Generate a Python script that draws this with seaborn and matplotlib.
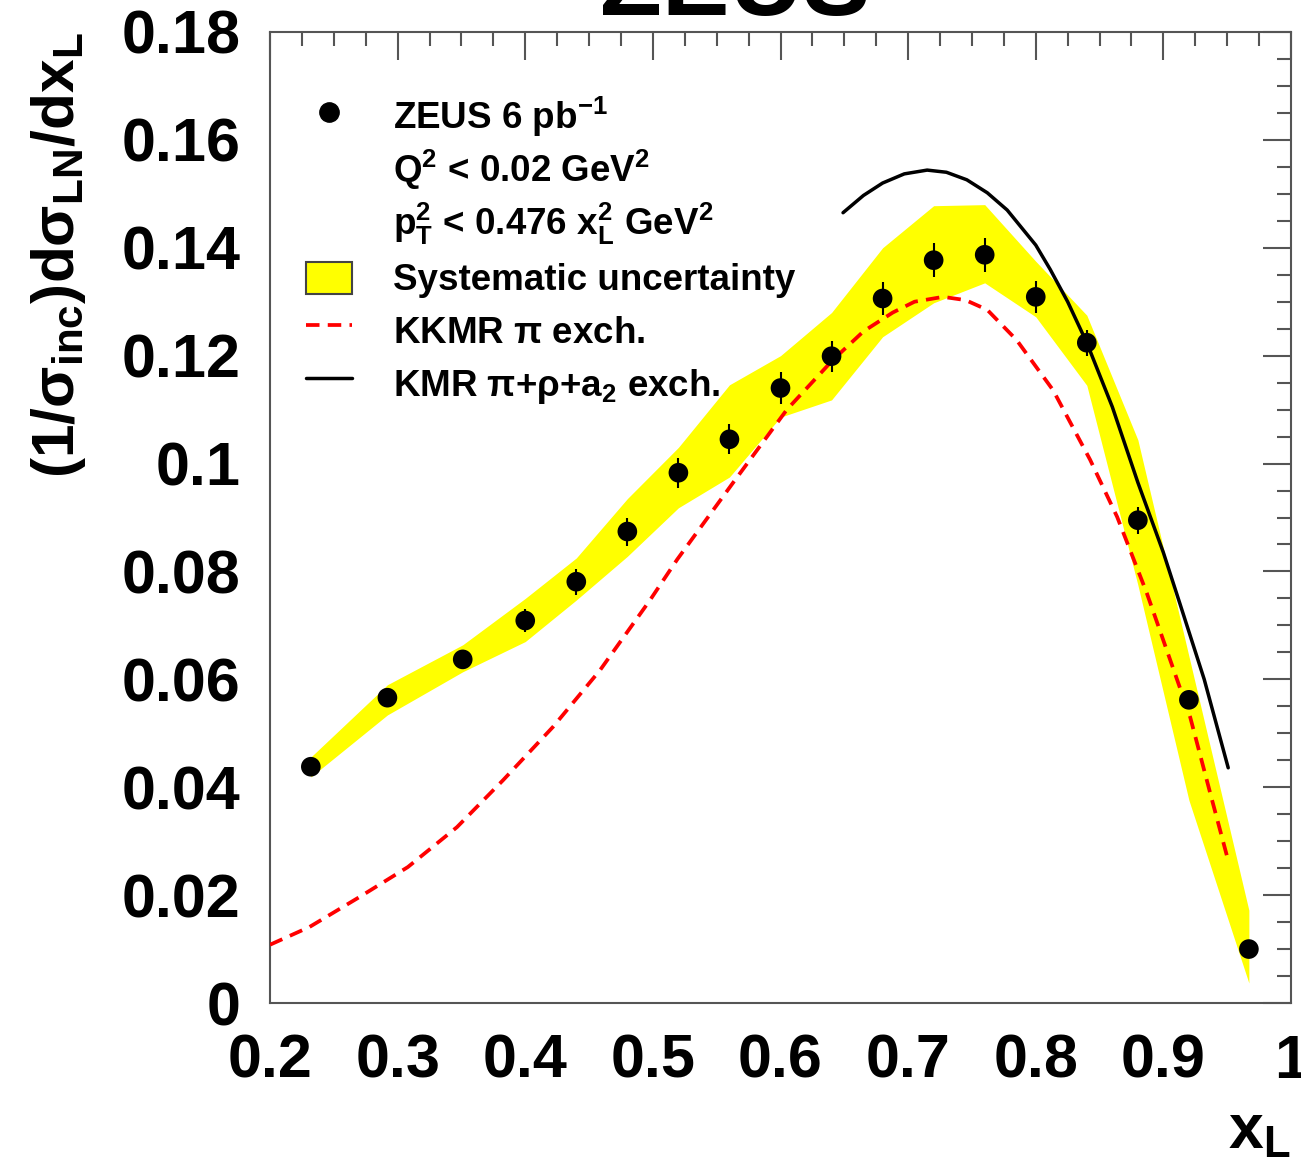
import numpy as np
import pandas as pd
import matplotlib
matplotlib.use("Agg")
import matplotlib.pyplot as plt
import seaborn as sns
from matplotlib.lines import Line2D
from matplotlib.patches import Patch, Rectangle
from matplotlib.legend_handler import HandlerPatch
from matplotlib.ticker import MultipleLocator, FuncFormatter

# ---------------- data ----------------
x_data = [0.232, 0.292, 0.351, 0.40, 0.44, 0.48, 0.52, 0.56, 0.60, 0.64,
          0.68, 0.72, 0.76, 0.80, 0.84, 0.88, 0.92, 0.967]
y_data = [0.0438, 0.0566, 0.0637, 0.0709, 0.0781, 0.0874, 0.0983, 0.1045, 0.1140, 0.1199,
          0.1306, 0.1377, 0.1387, 0.1309, 0.1224, 0.0895, 0.0562, 0.0100]
y_stat = [0.0012, 0.0014, 0.0016, 0.0022, 0.0024, 0.0026, 0.0028, 0.0028, 0.0029, 0.0029,
          0.0030, 0.0032, 0.0032, 0.0030, 0.0024, 0.0025, 0.0014, 0.0008]
sys_upper = [0.0456, 0.0590, 0.0664, 0.0750, 0.0825, 0.0935, 0.1030, 0.1146, 0.1200, 0.1280,
             0.1400, 0.1478, 0.1480, 0.1375, 0.1275, 0.1044, 0.0643, 0.0172]
sys_lower = [0.0419, 0.0534, 0.0614, 0.0670, 0.0747, 0.0828, 0.0918, 0.0975, 0.1086, 0.1118,
             0.1235, 0.1298, 0.1335, 0.1272, 0.1145, 0.0775, 0.0376, 0.0037]

kkmr_x = [0.200, 0.231, 0.2705, 0.308, 0.3465, 0.3826, 0.4218, 0.4586, 0.4978, 0.519,
          0.563, 0.605, 0.641, 0.665, 0.688, 0.705, 0.7274, 0.745, 0.762, 0.785,
          0.8136, 0.8426, 0.8638, 0.887, 0.921, 0.9367, 0.950]
kkmr_y = [0.0108, 0.0141, 0.0197, 0.0252, 0.0326, 0.0413, 0.0512, 0.0617, 0.0747, 0.0822,
          0.0965, 0.1100, 0.1192, 0.1245, 0.1280, 0.1300, 0.1309, 0.1303, 0.1285, 0.1229,
          0.1136, 0.1007, 0.0901, 0.0760, 0.0530, 0.0389, 0.0271]

kmr_x = [0.649, 0.665, 0.680, 0.697, 0.7149, 0.730, 0.746, 0.762, 0.7776, 0.800,
         0.8113, 0.825, 0.840, 0.860, 0.880, 0.900, 0.913, 0.932, 0.9508]
kmr_y = [0.1465, 0.1497, 0.1520, 0.1537, 0.1544, 0.1540, 0.1526, 0.1502, 0.1470, 0.1405,
         0.1360, 0.1300, 0.1224, 0.1105, 0.0965, 0.0835, 0.0740, 0.0600, 0.0436]

legend_labels = [
    "ZEUS 6 pb$^{-1}$",
    "Q$^{2}$ < 0.02 GeV$^{2}$",
    "$p_{T}^{2}$ < 0.476 $x_{L}^{2}$ GeV$^{2}$",
    "Systematic uncertainty",
    "KKMR $\\pi$ exch.",
    "KMR $\\pi$+$\\rho$+a$_{2}$ exch.",
]

# ---------------- style ----------------
sns.set_theme(style="white")
plt.rcParams["font.family"] = ["Liberation Sans", "DejaVu Sans"]
plt.rcParams["font.weight"] = "bold"
plt.rcParams["axes.labelweight"] = "bold"
plt.rcParams["text.color"] = "black"
plt.rcParams["axes.labelcolor"] = "black"
plt.rcParams["xtick.labelcolor"] = "black"
plt.rcParams["ytick.labelcolor"] = "black"
plt.rcParams["mathtext.fontset"] = "custom"
plt.rcParams["mathtext.rm"] = "Liberation Sans:bold"
plt.rcParams["mathtext.it"] = "Liberation Sans:bold"
plt.rcParams["mathtext.bf"] = "Liberation Sans:bold"
plt.rcParams["mathtext.sf"] = "Liberation Sans:bold"
plt.rcParams["mathtext.default"] = "rm"

W, H = 1301, 1168
fig = plt.figure(figsize=(W / 100, H / 100), dpi=100)
ax = fig.add_axes([270 / W, 1 - 1003 / H, (1291 - 270) / W, (1003 - 32) / H])

yellow = "#ffff00"
dash = (0, (3.6, 2.2))

ax.fill_between(x_data, sys_lower, sys_upper, color=yellow, lw=0, zorder=1)
sns.lineplot(x=kkmr_x, y=kkmr_y, ax=ax, color="#ff0000", lw=2.7, linestyle=dash,
             sort=False, estimator=None, zorder=3)
sns.lineplot(x=kmr_x, y=kmr_y, ax=ax, color="black", lw=2.5,
             sort=False, estimator=None, zorder=3)
ax.errorbar(x_data, y_data, yerr=y_stat, fmt="none", ecolor="black",
            elinewidth=1.5, capsize=0, zorder=4)
sns.scatterplot(x=x_data, y=y_data, ax=ax, color="black", s=200,
                edgecolor="none", zorder=5, legend=False)

ax.set_xlim(0.2, 1.0)
ax.set_ylim(0, 0.18)
ax.xaxis.set_major_locator(MultipleLocator(0.1))
ax.xaxis.set_minor_locator(MultipleLocator(0.025))
ax.yaxis.set_major_locator(MultipleLocator(0.02))
ax.yaxis.set_minor_locator(MultipleLocator(0.005))
fmt = FuncFormatter(lambda v, p: f"{round(v, 4):g}")
ax.xaxis.set_major_formatter(fmt)
ax.yaxis.set_major_formatter(fmt)

tick_col = "#555555"
ax.tick_params(which="both", direction="in", top=True, right=True,
               color=tick_col, width=1.5, labelsize=44)
ax.tick_params(which="major", length=20)
ax.tick_params(which="minor", length=10)
ax.tick_params(axis="y", pad=21)
ax.tick_params(axis="x", pad=22)
for s in ax.spines.values():
    s.set_color(tick_col)
    s.set_linewidth(1.5)
    s.set_visible(True)

ax.set_ylabel("(1/$\\sigma_{inc}$)d$\\sigma_{LN}$/dx$_{L}$", fontsize=43.5,
              fontweight="bold", loc="top", labelpad=24)
ax.set_xlabel("x$_{L}$", fontsize=45, fontweight="bold", loc="right", labelpad=8)

fig.text(0.565, 1 - 15 / H, "ZEUS", fontsize=73, fontweight="bold",
         ha="center", va="baseline")


def small_box(legend, orig_handle, xdescent, ydescent, width, height, fontsize):
    h = 0.87 * fontsize
    return Rectangle((-xdescent, -ydescent + (height - h) / 2), width, h)


handles = [
    Line2D([], [], marker="o", color="black", ls="none", markersize=13.9),
    Line2D([], [], ls="none"),
    Line2D([], [], ls="none"),
    Patch(facecolor=yellow, edgecolor="#444444", lw=1.5),
    Line2D([], [], color="#ff0000", lw=2.7, ls=dash),
    Line2D([], [], color="black", lw=2.5),
]
ax.legend(handles, legend_labels, loc="upper left", bbox_to_anchor=(0.0353, 0.9357),
          frameon=False, fontsize=26.5, handlelength=1.25, handleheight=1.5,
          handletextpad=1.11, labelspacing=0.22, borderpad=0, borderaxespad=0,
          handler_map={Patch: HandlerPatch(patch_func=small_box)})

fig.savefig("out.png", dpi=100)
